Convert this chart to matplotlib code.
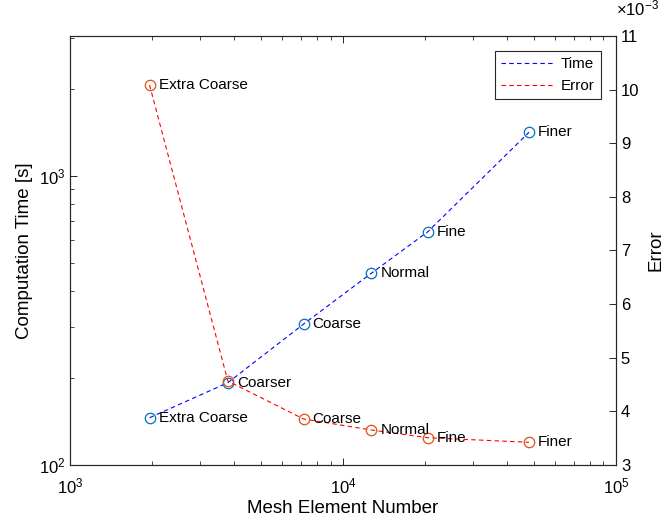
import matplotlib
matplotlib.use("Agg")
import matplotlib.pyplot as plt
from matplotlib.ticker import FixedLocator, FuncFormatter, NullFormatter, LogLocator

plt.rcParams["font.family"] = ["Liberation Sans", "DejaVu Sans"]
plt.rcParams["mathtext.default"] = "regular"

# values
mesh_names = ["Extra Coarse", "Coarser", "Coarse", "Normal", "Fine", "Finer"]
elements = [1956, 3786, 7170, 12690, 20450, 48040]
comp_time = [145.7, 192.5, 307, 459.7, 640.3, 1413]
error = [10.086e-3, 4.566e-3, 3.858e-3, 3.653e-3, 3.509e-3, 3.423e-3]

axis_col = "#262626"
line_blue = "#0000FF"
line_red = "#FF0000"
mk_blue = "#0072BD"
mk_red = "#D95319"

fig = plt.figure(figsize=(6.67, 5.24), dpi=100)
ax = fig.add_axes([0.105, 0.1126, 0.8185, 0.8187])
ax2 = ax.twinx()

l1, = ax.plot(elements, comp_time, color=line_blue, lw=0.8, dashes=(4, 3), label="Time")
ax.plot(elements, comp_time, ls="none", marker="o", ms=7.5, mfc="none",
        mec=mk_blue, mew=0.9)
l2, = ax2.plot(elements, error, color=line_red, lw=0.8, dashes=(4, 3), label="Error")
ax2.plot(elements, error, ls="none", marker="o", ms=7.5, mfc="none",
         mec=mk_red, mew=0.9)

for name, x, y in zip(mesh_names, elements, comp_time):
    ax.annotate(name, (x, y), xytext=(6.5, 0), textcoords="offset points",
                va="center", ha="left", fontsize=11, color="black")
# the two "Coarser" labels sit on top of each other, only one is drawn
for name, x, y in zip(mesh_names, elements, error):
    if name == "Coarser":
        continue
    ax2.annotate(name, (x, y), xytext=(6.5, 0), textcoords="offset points",
                 va="center", ha="left", fontsize=11, color="black")

ax.set_xscale("log")
ax.set_yscale("log")
ax.set_xlim(1e3, 1e5)
ax.set_ylim(100, 3040)
ax2.set_ylim(0.003, 0.011)
ax2.yaxis.set_major_locator(FixedLocator([i * 1e-3 for i in range(3, 12)]))
ax2.yaxis.set_major_formatter(FuncFormatter(lambda v, p: f"{v * 1e3:.0f}"))
ax.yaxis.set_minor_locator(LogLocator(base=10, subs=range(2, 10)))
ax.yaxis.set_minor_formatter(NullFormatter())
ax.xaxis.set_minor_formatter(NullFormatter())

ax.tick_params(which="both", direction="in", top=True, right=False,
               colors=axis_col, labelsize=12, labelcolor="black")
ax.tick_params(which="major", length=5, width=0.7)
ax.tick_params(which="minor", length=3, width=0.6)
ax.tick_params(axis="x", which="major", pad=8)
ax2.tick_params(which="both", direction="in", length=5, width=0.7,
                colors=axis_col, labelsize=12, labelcolor="black")
for a in (ax, ax2):
    for s in a.spines.values():
        s.set_color(axis_col)
        s.set_linewidth(0.8)

ax.set_xlabel("Mesh Element Number", fontsize=13.5, labelpad=3)
ax.set_ylabel("Computation Time [s]", fontsize=13.5)
ax2.set_ylabel("Error", fontsize=13.5, labelpad=6)
ax2.text(1.0, 1.04, r"$\times10^{-3}$", transform=ax2.transAxes,
         fontsize=12, ha="left", va="bottom")

leg = ax.legend(handles=[l1, l2], loc="upper right", fontsize=11,
                fancybox=False, edgecolor=axis_col, framealpha=1,
                handlelength=3.4, handletextpad=0.5, borderaxespad=1.0)
leg.get_frame().set_linewidth(0.8)

fig.savefig("out.png", dpi=100)
